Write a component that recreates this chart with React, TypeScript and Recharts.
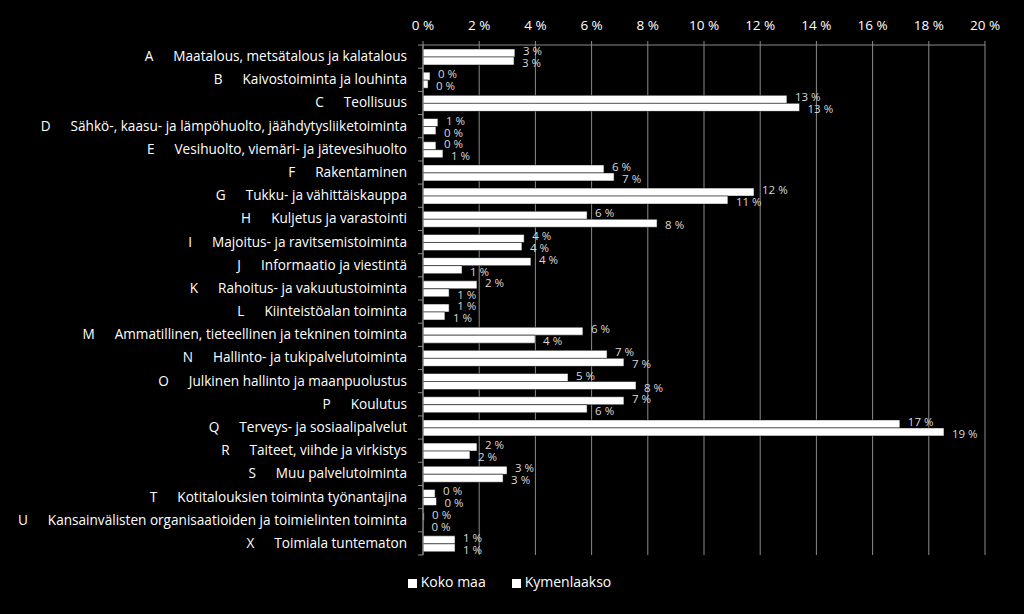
import { Bar, BarChart, CartesianGrid, LabelList, Legend, XAxis, YAxis } from "recharts";

const letters = ["A", "B", "C", "D", "E", "F", "G", "H", "I", "J", "K", "L", "M", "N", "O", "P", "Q", "R", "S", "T", "U", "X"];

const names = [
  "Maatalous, metsätalous ja kalatalous",
  "Kaivostoiminta ja louhinta",
  "Teollisuus",
  "Sähkö-, kaasu- ja lämpöhuolto, jäähdytysliiketoiminta",
  "Vesihuolto, viemäri- ja jätevesihuolto",
  "Rakentaminen",
  "Tukku- ja vähittäiskauppa",
  "Kuljetus ja varastointi",
  "Majoitus- ja ravitsemistoiminta",
  "Informaatio ja viestintä",
  "Rahoitus- ja vakuutustoiminta",
  "Kiinteistöalan toiminta",
  "Ammatillinen, tieteellinen ja tekninen toiminta",
  "Hallinto- ja tukipalvelutoiminta",
  "Julkinen hallinto ja maanpuolustus",
  "Koulutus",
  "Terveys- ja sosiaalipalvelut",
  "Taiteet, viihde ja virkistys",
  "Muu palvelutoiminta",
  "Kotitalouksien toiminta työnantajina",
  "Kansainvälisten organisaatioiden ja toimielinten toiminta",
  "Toimiala tuntematon"
];

// percent shares
const kokoMaa = [3.27, 0.25, 12.95, 0.53, 0.46, 6.44, 11.78, 5.84, 3.6, 3.84, 1.92, 0.93, 5.69, 6.55, 5.16, 7.15, 16.97, 1.92, 2.99, 0.43, 0.04, 1.14];
const kymenlaakso = [3.24, 0.18, 13.4, 0.46, 0.71, 6.8, 10.85, 8.33, 3.52, 1.39, 0.93, 0.78, 3.99, 7.15, 7.58, 5.84, 18.54, 1.67, 2.85, 0.48, 0.02, 1.14];

const xTicks = [0, 2, 4, 6, 8, 10, 12, 14, 16, 18, 20];

const data = letters.map((l, i) => ({
  cat: l + "|" + names[i],
  koko: kokoMaa[i],
  kymi: kymenlaakso[i]
}));

const font = "'Open Sans', sans-serif";
const gridColor = "#8c8c8c";

const CatTick = (props: any) => {
  const { x, y, payload } = props;
  const [letter, name] = String(payload.value).split("|");
  const half = 11.57;
  return (
    <g>
      <text x={x - 8} y={y} dy={4.5} textAnchor="end" fill="#ffffff" fontSize={13.6} fontFamily={font}>
        <tspan>{letter}</tspan>
        <tspan dx={20}>{name}</tspan>
      </text>
      <line x1={x + 3} x2={x + 8} y1={y - half} y2={y - half} stroke={gridColor} />
      {payload.index === letters.length - 1 && (
        <line x1={x + 3} x2={x + 8} y1={y + half} y2={y + half} stroke={gridColor} />
      )}
    </g>
  );
};

const makeLabel = (shift: number) => (props: any) => {
  const { x, y, width, height, value } = props;
  return (
    <text
      x={Number(x) + Number(width) + 8}
      y={Number(y) + Number(height) / 2 + shift}
      dy={4}
      fill="#d9d9d9"
      fontSize={11.5}
      fontFamily={font}
    >
      {Math.round(Number(value))} %
    </text>
  );
};

export default function App() {
  return (
    <div style={{ position: "absolute", left: 0, top: 0, width: 1024, height: 614, background: "#000" }}>
      <BarChart
        width={1024}
        height={614}
        data={data}
        layout="vertical"
        margin={{ top: 14, right: 39, bottom: 30, left: 0 }}
        barCategoryGap={4}
        barGap={0}
      >
        <CartesianGrid horizontal={false} vertical stroke={gridColor} />
        <XAxis
          type="number"
          orientation="top"
          domain={[0, 20]}
          ticks={xTicks}
          interval={0}
          height={31}
          tickFormatter={(v) => `${v} %`}
          tick={{ fill: "#ffffff", fontSize: 13.5, fontFamily: font }}
          stroke={gridColor}
          tickSize={4}
          tickMargin={11}
        />
        <YAxis
          type="category"
          dataKey="cat"
          width={423}
          interval={0}
          tick={<CatTick />}
          tickLine={false}
          stroke={gridColor}
        />
        <Legend
          verticalAlign="bottom"
          height={29}
          iconType="square"
          iconSize={9}
          wrapperStyle={{ top: 572, fontFamily: font, fontSize: 14, paddingLeft: 30 }}
          formatter={(v) => <span style={{ color: "#ffffff", marginRight: 16 }}>{v}</span>}
        />
        <Bar dataKey="koko" name="Koko maa" fill="#ffffff" stroke="#000000" strokeWidth={0.5} isAnimationActive={false}>
          <LabelList dataKey="koko" content={makeLabel(-2)} />
        </Bar>
        <Bar dataKey="kymi" name="Kymenlaakso" fill="#ffffff" stroke="#000000" strokeWidth={0.5} isAnimationActive={false}>
          <LabelList dataKey="kymi" content={makeLabel(2)} />
        </Bar>
      </BarChart>
    </div>
  );
}
